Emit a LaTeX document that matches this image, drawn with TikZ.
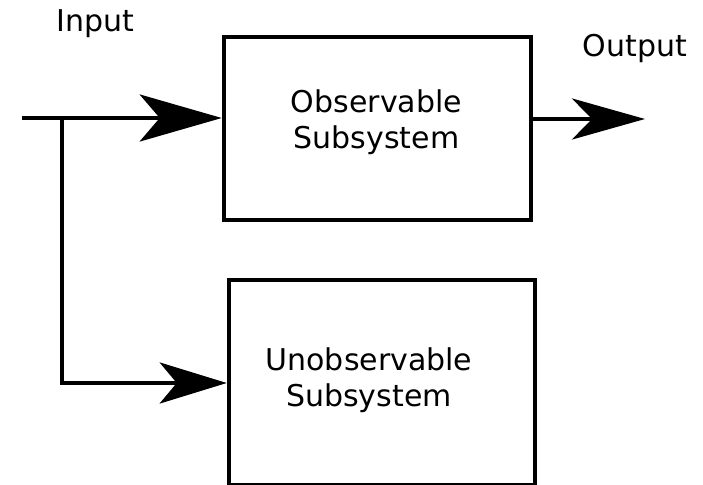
\documentclass[tikz,border=0pt]{standalone}
\usepackage{fontspec}
\setmainfont{DejaVu Sans}
\usetikzlibrary{arrows.meta}
\begin{document}
\begin{tikzpicture}[x=1pt,y=-1pt,
  wire/.style={line width=4.5pt},
  blockbox/.style={draw,line width=4.5pt,rectangle,inner sep=0pt},
  lbl/.style={inner sep=0pt,anchor=base,font=\fontsize{30}{36}\selectfont},
  blocktext/.style={inner sep=0pt,align=center,font=\fontsize{30}{36}\selectfont},
  bigtip/.style={-{Stealth[length=82pt,width=47pt,inset=20pt]}},
  midtip/.style={-{Stealth[length=73pt,width=41pt,inset=20pt]}},
  smalltip/.style={-{Stealth[length=67pt,width=41pt,inset=17pt]}}]
\useasboundingbox (0,0) rectangle (703,484);

% blocks
\node[blockbox,minimum width=307pt,minimum height=183pt] (obs) at (377.5,128.5) {};
\node[blockbox,minimum width=306pt,minimum height=205.5pt] (unobs) at (382,382.75) {};
\node[blocktext] (obstext) at (376.5,122) {Observable\\Subsystem};
\node[blocktext] (unobstext) at (369,380) {Unobservable\\Subsystem};

% labels
\node[lbl] (inlabel) at (95,32) {Input};
\node[lbl] (outlabel) at (635,57) {Output};

% input, branch and output
\coordinate (in) at (22,118);
\coordinate (split) at (62,118);
\coordinate (corner) at (62,383);
\coordinate (out) at (645,119);
\draw[wire,bigtip] (in) -- (obs.west |- in);
\draw[wire,smalltip] (split) -- (corner) -- (unobs.west |- corner);
\draw[wire,midtip] (obs.east |- out) -- (out);
\end{tikzpicture}
\end{document}
